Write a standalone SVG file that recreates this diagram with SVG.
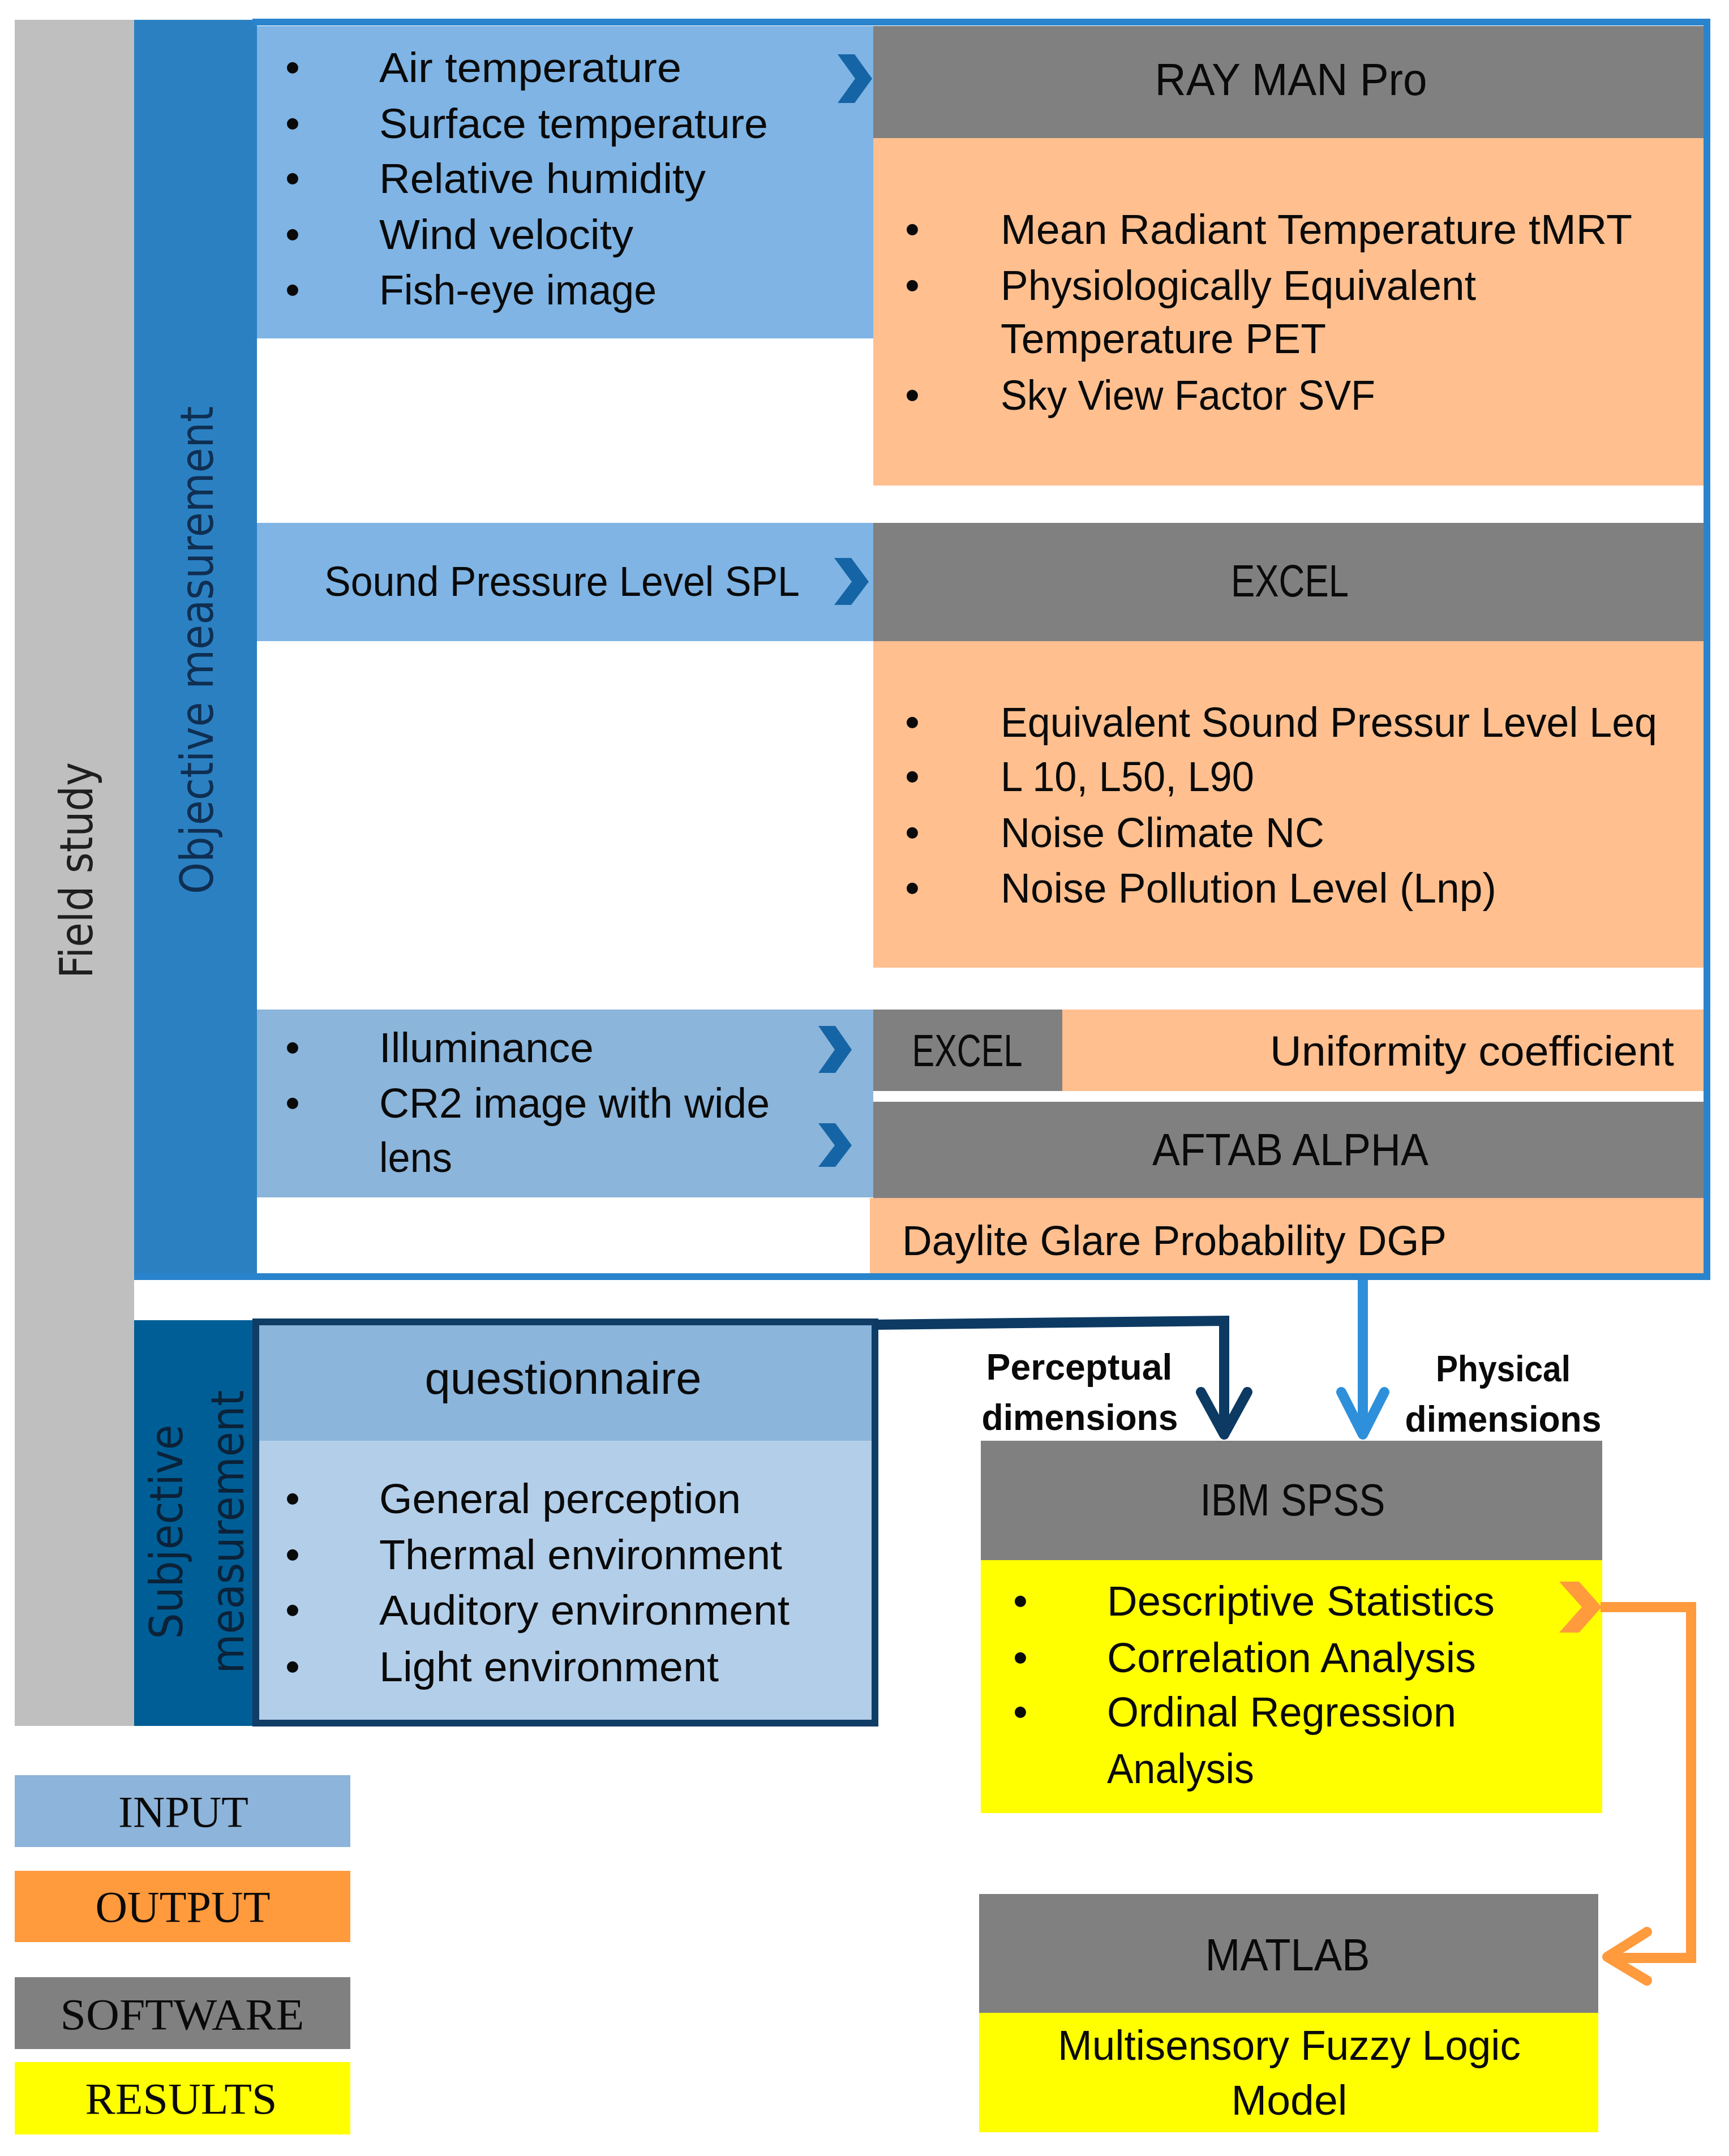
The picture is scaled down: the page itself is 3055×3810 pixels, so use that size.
<svg xmlns="http://www.w3.org/2000/svg" width="3055" height="3810" viewBox="0 0 3055 3810">
<style>
.t{font-family:"Liberation Sans",Arial,sans-serif;font-size:74px;fill:#0a0a0a}
.h{font-size:80px}
.c{text-anchor:middle}
.e{text-anchor:end}
.b{font-weight:bold;font-size:64px}
.v{font-family:"DejaVu Sans",Verdana,sans-serif;font-size:80px;text-anchor:middle}
.lg{font-family:"Liberation Serif","Times New Roman",serif;font-size:78px;text-anchor:middle;fill:#0a0a0a}
.sw{fill:#808080}
.out{fill:#FFBF8F}
.in1{fill:#7FB4E4}
.in3{fill:#8BB5DB}
.res{fill:#FFFF00}
.chev{fill:#1565A6}
.con{fill:none;stroke-width:18;stroke-linejoin:miter}
.head{fill:none;stroke-width:18;stroke-linecap:round;stroke-linejoin:round}
</style>
<rect x="0" y="0" width="3055" height="3810" fill="#FFFFFF"/>

<g id="field-study">
<rect x="26" y="35" width="211" height="3015" fill="#BFBFBF"/>
<text class="v" fill="#1f1f1f" transform="translate(163,1538) rotate(-90)" textLength="382" lengthAdjust="spacingAndGlyphs">Field study</text>
</g>

<g id="objective-measurement">
<rect x="237" y="35" width="217" height="2227" fill="#2B80C2"/>
<text class="v" fill="#0F2F52" transform="translate(376,1149) rotate(-90)" textLength="862" lengthAdjust="spacingAndGlyphs">Objective measurement</text>
</g>

<g id="subjective-measurement">
<rect x="237" y="2333" width="209" height="717" fill="#005E96"/>
<text class="v" fill="#0B2238" transform="translate(322,2707) rotate(-90)" textLength="379" lengthAdjust="spacingAndGlyphs">Subjective</text>
<text class="v" fill="#0B2238" transform="translate(430,2707) rotate(-90)" textLength="501" lengthAdjust="spacingAndGlyphs">measurement</text>
</g>

<g id="input-thermal">
<rect class="in1" x="454" y="46" width="1089" height="552"/>
<text class="t c" x="517" y="145">•</text>
<text class="t c" x="517" y="244">•</text>
<text class="t c" x="517" y="341">•</text>
<text class="t c" x="517" y="440">•</text>
<text class="t c" x="517" y="538">•</text>
<text class="t" x="670" y="145" textLength="534" lengthAdjust="spacingAndGlyphs">Air temperature</text>
<text class="t" x="670" y="244" textLength="687" lengthAdjust="spacingAndGlyphs">Surface temperature</text>
<text class="t" x="670" y="341" textLength="577" lengthAdjust="spacingAndGlyphs">Relative humidity</text>
<text class="t" x="670" y="440" textLength="449" lengthAdjust="spacingAndGlyphs">Wind velocity</text>
<text class="t" x="670" y="538" textLength="490" lengthAdjust="spacingAndGlyphs">Fish-eye image</text>
<polygon class="chev" points="1480,96 1510,96 1541,139 1510,182 1480,182 1511,139"/>
</g>

<g id="rayman">
<rect class="sw" x="1543" y="46" width="1467" height="198"/>
<text class="t h c" x="2281" y="168" textLength="481" lengthAdjust="spacingAndGlyphs">RAY MAN Pro</text>
</g>

<g id="output-thermal">
<rect class="out" x="1543" y="244" width="1467" height="614"/>
<text class="t c" x="1612" y="431">•</text>
<text class="t c" x="1612" y="530">•</text>
<text class="t c" x="1612" y="724">•</text>
<text class="t" x="1768" y="431" textLength="1116" lengthAdjust="spacingAndGlyphs">Mean Radiant Temperature tMRT</text>
<text class="t" x="1768" y="530" textLength="840" lengthAdjust="spacingAndGlyphs">Physiologically Equivalent</text>
<text class="t" x="1768" y="624" textLength="575" lengthAdjust="spacingAndGlyphs">Temperature PET</text>
<text class="t" x="1768" y="724" textLength="662" lengthAdjust="spacingAndGlyphs">Sky View Factor SVF</text>
</g>

<g id="input-sound">
<rect class="in1" x="454" y="924" width="1089" height="209"/>
<text class="t" x="573" y="1053" textLength="840" lengthAdjust="spacingAndGlyphs">Sound Pressure Level SPL</text>
<polygon class="chev" points="1474,986 1504,986 1535,1028 1504,1069 1474,1069 1505,1028"/>
</g>

<g id="excel-sound">
<rect class="sw" x="1543" y="924" width="1467" height="209"/>
<text class="t h c" x="2279" y="1054" textLength="208" lengthAdjust="spacingAndGlyphs">EXCEL</text>
</g>

<g id="output-sound">
<rect class="out" x="1543" y="1133" width="1467" height="577"/>
<text class="t c" x="1612" y="1302">•</text>
<text class="t c" x="1612" y="1398">•</text>
<text class="t c" x="1612" y="1497">•</text>
<text class="t c" x="1612" y="1595">•</text>
<text class="t" x="1768" y="1302" textLength="1160" lengthAdjust="spacingAndGlyphs">Equivalent Sound Pressur Level Leq</text>
<text class="t" x="1768" y="1398" textLength="448" lengthAdjust="spacingAndGlyphs">L 10, L50, L90</text>
<text class="t" x="1768" y="1497" textLength="572" lengthAdjust="spacingAndGlyphs">Noise Climate NC</text>
<text class="t" x="1768" y="1595" textLength="876" lengthAdjust="spacingAndGlyphs">Noise Pollution Level (Lnp)</text>
</g>

<g id="input-light">
<rect class="in3" x="454" y="1784" width="1089" height="332"/>
<text class="t c" x="517" y="1877">•</text>
<text class="t c" x="517" y="1975">•</text>
<text class="t" x="670" y="1877" textLength="379" lengthAdjust="spacingAndGlyphs">Illuminance</text>
<text class="t" x="670" y="1975" textLength="690" lengthAdjust="spacingAndGlyphs">CR2 image with wide</text>
<text class="t" x="670" y="2071" textLength="129" lengthAdjust="spacingAndGlyphs">lens</text>
<polygon class="chev" points="1446,1813 1476,1813 1505,1855 1476,1896 1446,1896 1475,1855"/>
<polygon class="chev" points="1446,1985 1476,1985 1505,2024 1476,2062 1446,2062 1475,2024"/>
</g>

<g id="excel-light">
<rect class="sw" x="1543" y="1784" width="334" height="144"/>
<text class="t h c" x="1709" y="1884" textLength="195" lengthAdjust="spacingAndGlyphs">EXCEL</text>
</g>

<g id="uniformity">
<rect class="out" x="1877" y="1784" width="1133" height="144"/>
<text class="t e" x="2958" y="1883" textLength="714" lengthAdjust="spacingAndGlyphs">Uniformity coefficient</text>
</g>

<g id="aftab">
<rect class="sw" x="1543" y="1947" width="1467" height="170"/>
<text class="t h c" x="2280" y="2059" textLength="488" lengthAdjust="spacingAndGlyphs">AFTAB  ALPHA</text>
</g>

<g id="dgp">
<rect class="out" x="1537" y="2117" width="1473" height="133"/>
<text class="t" x="1594" y="2218" textLength="962" lengthAdjust="spacingAndGlyphs">Daylite Glare Probability DGP</text>
</g>

<g id="objective-frame">
<path d="M446,39 H3016 V2256 H237" fill="none" stroke="#2A84CD" stroke-width="12"/>
</g>

<g id="questionnaire">
<rect x="452" y="2336" width="1094" height="709" fill="#B3CEE9"/>
<rect x="452" y="2336" width="1094" height="210" fill="#8BB5DB"/>
<rect x="452" y="2336" width="1094" height="709" fill="none" stroke="#0F3D66" stroke-width="12"/>
<text class="t h c" x="995" y="2463" textLength="489" lengthAdjust="spacingAndGlyphs">questionnaire</text>
<text class="t c" x="517" y="2674">•</text>
<text class="t c" x="517" y="2773">•</text>
<text class="t c" x="517" y="2871">•</text>
<text class="t c" x="517" y="2971">•</text>
<text class="t" x="670" y="2674" textLength="639" lengthAdjust="spacingAndGlyphs">General perception</text>
<text class="t" x="670" y="2773" textLength="712" lengthAdjust="spacingAndGlyphs">Thermal environment</text>
<text class="t" x="670" y="2871" textLength="725" lengthAdjust="spacingAndGlyphs">Auditory environment</text>
<text class="t" x="670" y="2971" textLength="600" lengthAdjust="spacingAndGlyphs">Light environment</text>
</g>

<g id="spss">
<rect class="sw" x="1733" y="2546" width="1098" height="211"/>
<rect class="res" x="1733" y="2757" width="1098" height="447"/>
<text class="t h c" x="2284" y="2678" textLength="327" lengthAdjust="spacingAndGlyphs">IBM SPSS</text>
<text class="t c" x="1803" y="2855">•</text>
<text class="t c" x="1803" y="2955">•</text>
<text class="t c" x="1803" y="3051">•</text>
<text class="t" x="1956" y="2855" textLength="685" lengthAdjust="spacingAndGlyphs">Descriptive Statistics</text>
<text class="t" x="1956" y="2955" textLength="652" lengthAdjust="spacingAndGlyphs">Correlation Analysis</text>
<text class="t" x="1956" y="3051" textLength="617" lengthAdjust="spacingAndGlyphs">Ordinal Regression</text>
<text class="t" x="1956" y="3151" textLength="260" lengthAdjust="spacingAndGlyphs">Analysis</text>
<polygon fill="#FF9A3D" points="2755,2795 2790,2795 2830,2840 2790,2885 2755,2885 2795,2840"/>
</g>

<g id="matlab">
<rect class="sw" x="1730" y="3347" width="1094" height="210"/>
<rect class="res" x="1730" y="3557" width="1094" height="211"/>
<text class="t h c" x="2275" y="3482" textLength="291" lengthAdjust="spacingAndGlyphs">MATLAB</text>
<text class="t c" x="2278" y="3640" textLength="818" lengthAdjust="spacingAndGlyphs">Multisensory Fuzzy Logic</text>
<text class="t c" x="2278" y="3737" textLength="205" lengthAdjust="spacingAndGlyphs">Model</text>
</g>

<g id="connectors">
<path class="con" stroke="#0C3A63" d="M1544,2341 L2163,2334 L2163,2532"/>
<polyline class="head" stroke="#0C3A63" points="2122,2460 2163,2535 2204,2460"/>
<path class="con" stroke="#2E90DA" stroke-width="16" d="M2408,2262 V2532"/>
<polyline class="head" stroke="#2E90DA" stroke-width="16" points="2370,2460 2408,2535 2446,2460"/>
<path class="con" stroke="#FF9A3D" d="M2828,2840 H2988 V3460 H2845"/>
<polyline class="head" stroke="#FF9A3D" points="2910,3414 2840,3458 2910,3500"/>
<text class="t b c" x="1907" y="2438" textLength="329" lengthAdjust="spacingAndGlyphs">Perceptual</text>
<text class="t b c" x="1908" y="2527" textLength="347" lengthAdjust="spacingAndGlyphs">dimensions</text>
<text class="t b c" x="2656" y="2441" textLength="238" lengthAdjust="spacingAndGlyphs">Physical</text>
<text class="t b c" x="2656" y="2530" textLength="347" lengthAdjust="spacingAndGlyphs">dimensions</text>
</g>

<g id="legend">
<rect x="26" y="3137" width="593" height="127" fill="#8DB4DA"/>
<text class="lg" x="324" y="3228" textLength="230" lengthAdjust="spacingAndGlyphs">INPUT</text>
<rect x="26" y="3306" width="593" height="126" fill="#FF9A3D"/>
<text class="lg" x="323" y="3396" textLength="309" lengthAdjust="spacingAndGlyphs">OUTPUT</text>
<rect x="26" y="3494" width="593" height="127" fill="#808080"/>
<text class="lg" x="322" y="3586" textLength="431" lengthAdjust="spacingAndGlyphs">SOFTWARE</text>
<rect x="26" y="3644" width="593" height="128" fill="#FFFF00"/>
<text class="lg" x="320" y="3735" textLength="339" lengthAdjust="spacingAndGlyphs">RESULTS</text>
</g>
</svg>
